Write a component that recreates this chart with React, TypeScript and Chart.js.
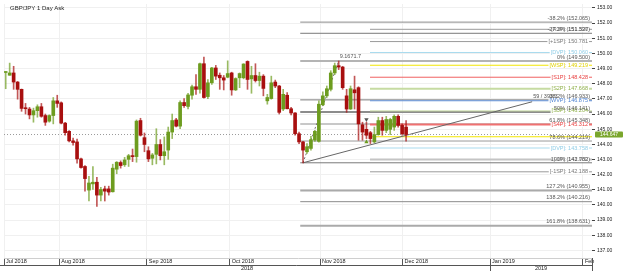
import React, { useEffect, useRef } from 'react';
import { Chart, registerables } from 'chart.js';
Chart.register(...registerables);

// ---------- data ----------
const opens = [148.74,148.56,148.71,148.11,147.63,146.40,146.33,145.94,146.22,146.48,
 145.90,145.53,145.90,146.87,146.74,145.40,144.86,144.23,144.16,143.04,
 142.54,140.98,141.39,141.50,140.65,141.06,141.06,140.87,142.36,142.80,
 142.65,143.01,143.25,143.19,145.57,144.44,143.58,143.08,143.34,143.99,
 143.25,143.62,144.81,145.61,145.20,146.76,146.50,147.24,147.80,147.63,
 149.32,147.15,148.06,149.04,148.56,148.39,148.43,148.71,147.59,148.39,
 148.39,149.47,148.32,148.54,148.21,148.50,146.87,147.02,148.11,147.85,
 146.33,147.24,146.35,146.07,144.70,144.16,143.51,143.73,144.28,144.20,
 146.61,147.20,147.63,148.71,149.19,149.10,147.20,146.33,147.60,147.74,
 145.29,144.99,144.77,144.16,144.64,145.57,144.92,144.99,145.14,145.85,
 145.25,145.14];
const highs = [148.80,149.36,149.15,148.15,147.65,146.70,146.44,146.39,146.61,146.70,
 146.00,145.95,147.09,147.24,146.80,145.45,144.90,144.42,144.34,143.10,
 142.60,141.89,142.54,141.82,141.17,141.24,141.24,142.69,142.86,142.91,
 143.14,143.34,143.69,145.61,145.72,144.75,143.84,143.40,145.03,144.31,
 144.49,145.14,146.00,145.72,146.87,147.02,147.37,147.91,148.60,149.36,
 149.75,148.28,149.08,149.21,148.71,148.54,149.51,148.76,148.39,148.71,
 149.32,149.51,149.15,149.32,148.76,148.60,147.30,148.50,148.24,147.89,
 147.63,147.41,146.44,146.10,144.81,144.20,144.05,144.53,144.92,146.87,
 147.46,147.85,148.86,149.36,149.50,149.15,147.63,147.85,148.50,147.80,
 145.46,145.46,144.86,145.14,145.79,145.79,145.85,145.72,145.94,145.94,
 145.35,145.57];
const lows = [147.67,148.56,147.63,146.98,146.18,146.00,145.68,145.46,145.79,145.79,
 145.25,145.46,145.35,146.44,145.35,144.60,144.16,143.95,142.75,142.43,
 140.91,140.26,141.02,139.90,140.26,140.26,140.65,140.85,142.06,142.43,
 142.54,142.54,142.86,142.82,144.55,143.51,142.86,142.65,142.71,142.97,
 142.65,143.01,144.38,145.15,145.03,146.44,146.33,146.98,147.30,147.37,
 147.04,147.02,147.95,148.28,147.63,147.59,148.39,147.24,147.55,147.74,
 148.32,147.63,147.37,148.11,147.85,147.20,146.65,146.98,147.74,146.00,
 146.22,146.33,145.94,144.60,144.05,142.782,143.40,143.62,144.20,144.15,
 146.55,147.09,147.52,148.60,148.93,147.63,146.11,146.30,146.33,144.27,
 144.27,144.38,144.05,144.10,144.60,144.60,144.77,144.64,144.92,145.14,
 144.60,144.21];
const closes = [148.78,148.71,148.11,147.63,146.37,146.35,145.94,146.22,146.48,145.85,
 145.46,145.90,146.87,146.70,145.40,144.77,144.23,144.12,143.04,142.47,
 141.74,141.45,141.50,140.65,141.02,140.91,140.85,142.43,142.82,142.60,
 142.97,143.25,143.19,145.53,144.60,143.99,143.04,143.30,143.99,143.25,
 143.51,144.81,145.57,145.20,146.76,146.55,147.26,147.80,147.63,149.32,
 147.09,148.06,149.04,148.50,148.39,148.24,148.67,147.59,148.34,148.67,
 149.30,148.28,148.54,148.21,148.50,147.69,147.09,148.06,147.85,146.11,
 147.30,146.35,146.07,144.70,144.16,143.62,143.84,144.31,144.86,146.65,
 147.20,147.67,148.71,149.19,149.10,147.74,146.33,147.67,147.40,145.35,
 144.81,144.60,144.38,144.64,145.57,144.92,145.64,145.64,145.85,145.25,
 144.70,144.647];

const lastPrice = 144.647;
const yTicks = [137,138,139,140,141,142,143,144,145,146,147,148,149,150,151,152,153];
const monthTickPos = [-0.43, 13.5, 35.6, 56.5, 79.3, 100.1, 122.2, 145.6];
const monthLabels = ['Jul 2018','Aug 2018','Sep 2018','Oct 2018','Nov 2018','Dec 2018','Jan 2019','Feb'];
const yearLabels = ['2018','2019'];
const yearSplitPos = 122.2;

const fibNames = ['-38.2%','-27.2%','0%','38.2%','50%','61.8%','78.6%','100%','127.2%','138.2%','161.8%'];
const fibValues = [152.065,151.327,149.500,146.933,146.141,145.348,144.219,142.782,140.955,140.216,138.631];
const fibStartIdx = 74.3;

const pivotNames = ['[R3P]','[+1SP]','[DVP]','[WSP]','[S1P]','[S2P]','[WVP]','[S3P]','[S4P]','','[DVP]','[-1P]','[-1SP]'];
const pivotValues = [151.590,150.781,150.060,149.219,148.428,147.668,146.875,146.204,145.312,144.500,143.758,143.000,142.188];
const pivotStartIdx = 91.9;

const swingLowIdx = 75;
const swingHighIdx = 84;
const trendEnd = { idx: 132.8, value: 146.81 };
const trendLabel = '59 / 393.3';
const highLabel = '9.1671.7';
const fractalDown = { idx: 91, value: 145.64 };
const fractalUp = { idx: 91, value: 144.16 };

// ---------- styles ----------
const FONT = '"Liberation Sans", Arial, sans-serif';
const GREEN = '#6d9c1f';
const RED = '#a80f0f';
const GREEN_WICK = 'rgba(109,156,31,0.7)';
const RED_WICK = 'rgba(168,15,15,0.7)';
const fibStyles = [
  ['#8c8c8c',1],['#7a7a7a',1],['#b4b4b4',2],['#7a7a7a',1],['#8c8c8c',2],['#c8c8c8',2],
  ['#9a9a9a',1],['#7a7a7a',1],['#aaaaaa',2],['#8c8c8c',1],['#aaaaaa',2]
];
const pivotStyles = [
  ['#9a9a9a','#777'],['#9a9a9a','#777'],['#a9dbee','#8fcde6'],['#f3e600','#e0d000'],['#f06060','#e84040'],
  ['#c6dba2','#8fb04a'],['#6494dc','#4a7fd0'],['#c6dba2','#8fb04a'],['#f07070','#e84040'],
  ['#f3e600','#e0d000'],['#a9dbee','#8fcde6'],['#c4c4c4','#888'],['#9a9a9a','#777']
];
const pivotWidths = [1,1,1,1,1,2,1,1,2,1,1,2,1];

const X_MIN = -0.43;
const X_MAX = 147.9;
const Y_MIN = 136.5;
const Y_MAX = 153.26;

function buildDatasets(): any[] {
  const idx = opens.map((_, i) => i);
  const up = idx.map(i => closes[i] >= opens[i]);
  const ds: any[] = [];
  ds.push({
    type: 'bar', label: 'body', order: 0, grouped: false,
    data: idx.map(i => ({ x: i, y: [opens[i], closes[i]] })),
    backgroundColor: up.map(u => (u ? GREEN : RED)),
    barThickness: 3, minBarLength: 1, borderWidth: 0,
  });
  ds.push({
    type: 'bar', label: 'wick', order: 1, grouped: false,
    data: idx.map(i => ({ x: i, y: [lows[i], highs[i]] })),
    backgroundColor: up.map(u => (u ? GREEN_WICK : RED_WICK)),
    barThickness: 1, borderWidth: 0,
  });
  fibValues.forEach((v, i) => {
    ds.push({
      type: 'line', label: 'fib' + i, order: 4,
      data: [{ x: fibStartIdx, y: v }, { x: X_MAX, y: v }],
      borderColor: fibStyles[i][0], borderWidth: fibStyles[i][1], pointRadius: 0,
    });
  });
  pivotValues.forEach((v, i) => {
    ds.push({
      type: 'line', label: 'piv' + i, order: 3,
      data: [{ x: pivotStartIdx, y: v }, { x: X_MAX, y: v }],
      borderColor: pivotStyles[i][0], borderWidth: pivotWidths[i], pointRadius: 0,
    });
  });
  ds.push({
    type: 'line', label: 'price', order: 2,
    data: [{ x: X_MIN, y: lastPrice }, { x: X_MAX, y: lastPrice }],
    borderColor: '#9a9a9a', borderWidth: 1, borderDash: [1, 2], pointRadius: 0,
  });
  ds.push({
    type: 'line', label: 'trend', order: 2,
    data: [{ x: swingLowIdx, y: lows[swingLowIdx] }, { x: trendEnd.idx, y: trendEnd.value }],
    borderColor: '#666', borderWidth: 1, pointRadius: 0,
  });
  ds.push({
    type: 'line', label: 'swing', order: 2,
    data: [{ x: swingLowIdx, y: lows[swingLowIdx] }, { x: swingHighIdx, y: highs[swingHighIdx] }],
    borderColor: '#777', borderWidth: 1, borderDash: [2, 2], pointRadius: 0,
  });
  ds.push({
    type: 'scatter', label: 'fd', order: 0,
    data: [{ x: fractalDown.idx, y: fractalDown.value }],
    pointStyle: 'triangle', rotation: 180, radius: 2.5, backgroundColor: '#555', borderWidth: 0,
  });
  ds.push({
    type: 'scatter', label: 'fu', order: 0,
    data: [{ x: fractalUp.idx, y: fractalUp.value }],
    pointStyle: 'triangle', radius: 2.5, backgroundColor: GREEN, borderWidth: 0,
  });
  return ds;
}

const overlayPlugin = {
  id: 'overlay',
  afterDatasetsDraw(chart: any) {
    const { ctx, chartArea } = chart;
    const xs = chart.scales.x;
    const ys = chart.scales.y;
    ctx.save();
    // title
    ctx.font = `6px ${FONT}`;
    ctx.fillStyle = '#222';
    ctx.textAlign = 'left';
    ctx.textBaseline = 'middle';
    ctx.fillText('GBP/JPY 1 Day Ask', 10, 8);

    // pivot labels
    ctx.font = `5.5px ${FONT}`;
    pivotValues.forEach((v, i) => {
      const name = pivotNames[i];
      if (!name) return;
      const text = `${name}: ${v.toFixed(3)}`;
      const y = ys.getPixelForValue(v);
      const w = ctx.measureText(text).width;
      const xr = chartArea.right - 4;
      ctx.fillStyle = '#fff';
      ctx.fillRect(xr - w - 1, y - 2.5, w + 2, 5);
      ctx.fillStyle = pivotStyles[i][1];
      ctx.textAlign = 'right';
      ctx.textBaseline = 'middle';
      ctx.fillText(text, xr, y);
    });
    // fib labels
    fibValues.forEach((v, i) => {
      const y = ys.getPixelForValue(v);
      ctx.fillStyle = '#555';
      ctx.textAlign = 'right';
      ctx.textBaseline = 'bottom';
      ctx.fillText(`${fibNames[i]} (${v.toFixed(3)})`, chartArea.right - 2, y - 1);
    });
    // swing high label
    ctx.fillStyle = '#555';
    ctx.textAlign = 'left';
    ctx.textBaseline = 'bottom';
    ctx.fillText(highLabel, xs.getPixelForValue(swingHighIdx) + 1, ys.getPixelForValue(highs[swingHighIdx]) - 2);
    // trend label
    ctx.fillText(trendLabel, xs.getPixelForValue(trendEnd.idx) + 1, ys.getPixelForValue(trendEnd.value) - 3);

    // price box
    const py = ys.getPixelForValue(lastPrice);
    ctx.fillStyle = '#7aa62c';
    const bx = chartArea.right + 3, bw = 28, bh = 6;
    ctx.beginPath();
    ctx.roundRect ? ctx.roundRect(bx, py - bh / 2, bw, bh, 1) : ctx.rect(bx, py - bh / 2, bw, bh);
    ctx.fill();
    ctx.fillStyle = '#fff';
    ctx.font = `5px ${FONT}`;
    ctx.textAlign = 'center';
    ctx.textBaseline = 'middle';
    ctx.fillText(lastPrice.toFixed(3), bx + bw / 2, py + 0.3);
    ctx.restore();
  },
  afterDraw(chart: any) {
    const { ctx, chartArea } = chart;
    const xs = chart.scales.x;
    const yRow = chartArea.bottom + 7.5;
    const bottom = chart.height;
    const split = xs.getPixelForValue(yearSplitPos);
    ctx.save();
    ctx.strokeStyle = '#555';
    ctx.lineWidth = 1;
    ctx.beginPath();
    ctx.moveTo(0, yRow); ctx.lineTo(chartArea.right + 0.5, yRow);
    ctx.moveTo(Math.round(split) + 0.5, yRow); ctx.lineTo(Math.round(split) + 0.5, bottom);
    ctx.moveTo(chartArea.right + 0.5, chartArea.bottom); ctx.lineTo(chartArea.right + 0.5, bottom);
    ctx.stroke();
    ctx.font = `5.5px ${FONT}`;
    ctx.fillStyle = '#222';
    ctx.textAlign = 'center';
    ctx.textBaseline = 'middle';
    ctx.fillText(yearLabels[0], (chartArea.left + split) / 2, yRow + 2.8);
    ctx.fillText(yearLabels[1], (split + chartArea.right) / 2, yRow + 2.8);
    ctx.restore();
  },
};

export default function App() {
  const ref = useRef<HTMLCanvasElement>(null);
  useEffect(() => {
    const chart = new Chart(ref.current as HTMLCanvasElement, {
      type: 'bar',
      data: { datasets: buildDatasets() },
      options: {
        animation: false,
        responsive: false,
        devicePixelRatio: 1,
        layout: { padding: 0 },
        plugins: { legend: { display: false }, tooltip: { enabled: false }, title: { display: false } },
        scales: {
          x: {
            type: 'linear', min: X_MIN, max: X_MAX, offset: false,
            grid: { color: '#f0f0f0', tickColor: '#555', tickLength: 7, drawTicks: true, offset: false },
            border: { color: '#cfcfcf' },
            ticks: {
              autoSkip: false, maxRotation: 0, minRotation: 0, align: 'start', labelOffset: 2, padding: -7,
              font: { size: 5.5, family: FONT }, color: '#222',
              callback: (_v: any, i: number) => monthLabels[i],
            },
            afterBuildTicks: (s: any) => { s.ticks = monthTickPos.map(v => ({ value: v })); },
            afterFit: (s: any) => { s.height = 13; s.paddingLeft = 0; s.paddingRight = 0; },
          },
          y: {
            type: 'linear', position: 'right', min: Y_MIN, max: Y_MAX,
            grid: { color: '#f0f0f0', tickColor: '#444', tickLength: 3 },
            border: { display: false },
            ticks: {
              padding: 2, font: { size: 5, family: FONT }, color: '#222',
              callback: (v: any) => Number(v).toFixed(2),
            },
            afterBuildTicks: (s: any) => { s.ticks = yTicks.map(v => ({ value: v })); },
            afterFit: (s: any) => { s.width = 33; s.paddingTop = 0; s.paddingBottom = 0; },
          },
        },
      } as any,
      plugins: [overlayPlugin],
    });
    return () => chart.destroy();
  }, []);
  return (
    <div style={{ position: 'fixed', left: 0, top: 0, width: 625, height: 271, background: '#fff' }}>
      <canvas ref={ref} width={625} height={271} style={{ display: 'block', width: 625, height: 271 }} />
    </div>
  );
}
